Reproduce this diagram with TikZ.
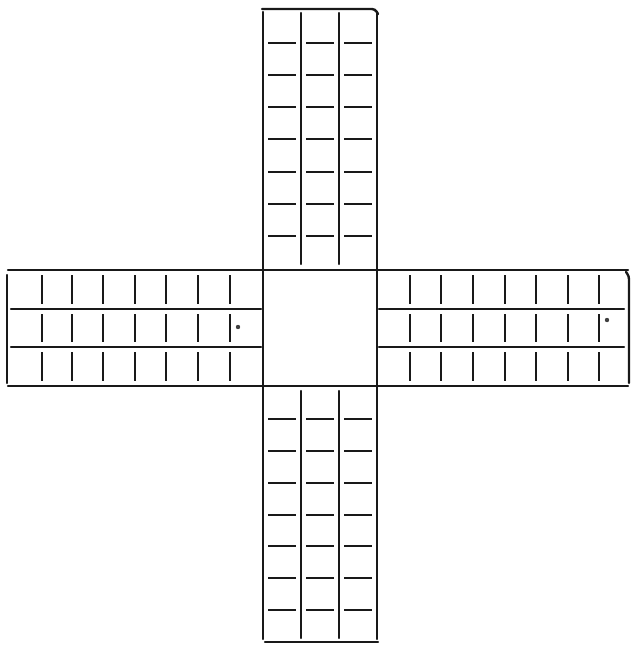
\documentclass[tikz,border=0pt]{standalone}
\begin{document}
\begin{tikzpicture}[x=1pt,y=-1pt,
  boardline/.style={line width=2.4pt, draw=black!90, line cap=round},
  tickline/.style={line width=2.6pt, draw=black!90, line cap=butt},
  speck/.style={fill=black!75}]
\useasboundingbox (0,0) rectangle (633,646);
\fill[white] (0,0) rectangle (633,646);
% long lines through the centre square
\draw[boardline] (263,12) -- (263,639);
\draw[boardline] (377,12) -- (377,639);
\draw[boardline] (8,270) -- (628,270);
\draw[boardline] (8,386) -- (628,386);
% outer ends of the arms
\draw[boardline, rounded corners=3pt] (262,9) -- (375,9) -- (378,14);
\draw[boardline] (265,642) -- (378,642);
\draw[boardline] (7,275) -- (7,383);
\draw[boardline, rounded corners=3pt] (626,272) -- (629,276) -- (629,383);
% inner dividers along the arms
\foreach \x in {301,339}{
  \draw[boardline] (\x,13) -- (\x,264);
  \draw[boardline] (\x,391) -- (\x,638);
}
\foreach \y in {309,347}{
  \draw[boardline] (11,\y) -- (261,\y);
  \draw[boardline] (379,\y) -- (624,\y);
}
% cross dashes, top and bottom arms
\foreach \a/\b in {263/301,301/339,339/377}{
  \foreach \y in {43,75,107,139,172,204,236,419,451,483,515,546,578,610}{
    \draw[tickline] (\a+5,\y) -- (\b-5,\y);
  }
}
% cross ticks, left and right arms
\foreach \a/\b in {270/309,309/347,347/386}{
  \foreach \x in {42,72,103,135,166,198,230,410,441,473,505,536,568,599}{
    \draw[tickline] (\x,\a+5) -- (\x,\b-5);
  }
}
% small marks
\fill[speck] (238,327) circle (2.2);
\fill[speck] (607,320) circle (2.2);
\end{tikzpicture}
\end{document}
